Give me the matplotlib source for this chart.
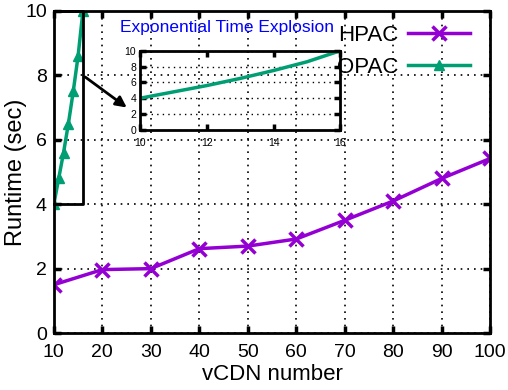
import matplotlib
matplotlib.use("Agg")
import matplotlib.pyplot as plt

# data
vcdn = [10, 20, 30, 40, 50, 60, 70, 80, 90, 100]
hpac = [1.5, 1.97, 2.0, 2.62, 2.7, 2.92, 3.5, 4.1, 4.8, 5.42]

opac_vcdn = [10, 11, 12, 13, 14, 15, 16]
opac = [4.0, 4.8, 5.6, 6.5, 7.5, 8.6, 10.0]

purple = '#9400D3'
green = '#009E73'

plt.rcParams['font.family'] = ['Liberation Sans', 'DejaVu Sans']

fig = plt.figure(figsize=(5.08, 3.9), dpi=100)
ax = fig.add_axes([0.106, 0.146, 0.859, 0.826])

ax.plot(vcdn, hpac, color=purple, lw=2.5, marker='x', ms=10, mew=2.5, label='HPAC')
ax.plot(opac_vcdn, opac, color=green, lw=2.5, marker='^', ms=7, label='OPAC')

ax.set_xlim(10, 100)
ax.set_ylim(0, 10)
ax.set_xticks(vcdn)
ax.set_yticks([0, 2, 4, 6, 8, 10])
ax.tick_params(direction='in', length=5, width=2.5, top=True, right=True,
               labelsize=14, pad=5)
ax.tick_params(axis='x', pad=8)
ax.grid(True, color='black', ls=(0, (1, 3)), lw=1.2)
for s in ax.spines.values():
    s.set_linewidth(2)
ax.set_xlabel('vCDN number', fontsize=16, labelpad=2)
ax.set_ylabel('Runtime (sec)', fontsize=17)
ax.yaxis.set_label_coords(-0.062, 0.5)

# zoom box and arrow
ax.plot([10, 16, 16, 10], [4, 4, 10, 10], color='black', lw=2, clip_on=False)
ax.annotate('', xy=(25.5, 6.95), xytext=(16, 8),
            arrowprops=dict(arrowstyle='-|>', color='black', lw=2, mutation_scale=16))

ax.legend(loc='upper right', frameon=False, fontsize=16, markerfirst=False,
          handlelength=2.8, handletextpad=0.45, labelspacing=0.5,
          borderaxespad=0.0, bbox_to_anchor=(0.975, 0.985))

# inset
ins = fig.add_axes([0.276, 0.667, 0.394, 0.203])
ins.patch.set_alpha(0)
ins.plot(opac_vcdn, opac, color=green, lw=2.5)
ins.set_xlim(10, 16)
ins.set_ylim(0, 10)
ins.set_xticks([10, 12, 14, 16])
ins.set_yticks([0, 2, 4, 6, 8, 10])
ins.tick_params(direction='in', length=4, width=2.5, top=True, right=True,
                labelsize=7.5, pad=3)
ins.tick_params(axis='x', pad=6)
ins.yaxis.grid(True, color='black', ls=(0, (1, 3)), lw=1)
for s in ins.spines.values():
    s.set_linewidth(2)
fig.text(0.447, 0.93, 'Exponential Time Explosion', color='blue', fontsize=12.5,
         ha='center', va='center')

fig.savefig('out.png', dpi=100)
